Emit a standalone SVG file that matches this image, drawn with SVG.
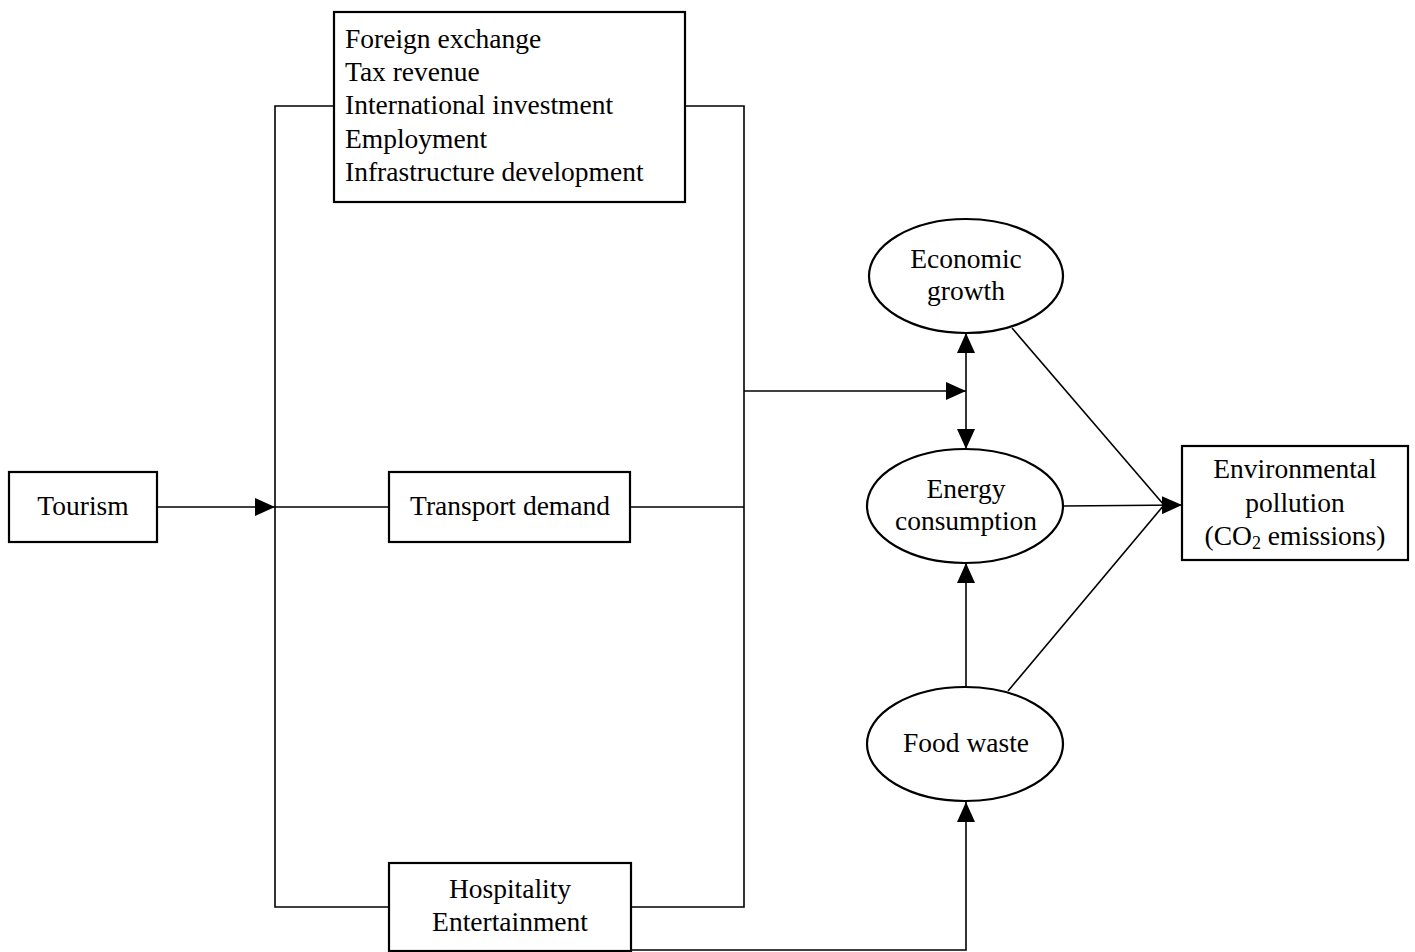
<svg xmlns="http://www.w3.org/2000/svg" width="1415" height="952" viewBox="0 0 1415 952">
<style>
.box{fill:#fff;stroke:#000;stroke-width:2.2}
.ell{fill:#fff;stroke:#000;stroke-width:2.2}
.ln{fill:none;stroke:#000;stroke-width:1.6}
text{font-family:"Liberation Serif","Times New Roman",serif;font-size:27.5px;fill:#000}
.c{text-anchor:middle}
</style>
<defs>
<marker id="ah" markerUnits="userSpaceOnUse" markerWidth="20" markerHeight="18" refX="20" refY="9" orient="auto-start-reverse">
<path d="M0,0 L20,9 L0,18 Z" fill="#000"/>
</marker>
</defs>
<rect width="1415" height="952" fill="#fff"/>
<g id="connectors">
<line class="ln" x1="157" y1="507" x2="275" y2="507" marker-end="url(#ah)"/>
<path class="ln" d="M334,106 H275 V907 H389"/>
<line class="ln" x1="275" y1="507" x2="389" y2="507"/>
<path class="ln" d="M685,106 H744 V907 H631"/>
<line class="ln" x1="630" y1="507" x2="744" y2="507"/>
<line class="ln" x1="744" y1="391" x2="966" y2="391" marker-end="url(#ah)"/>
<line class="ln" x1="966" y1="333" x2="966" y2="449" marker-start="url(#ah)" marker-end="url(#ah)"/>
<path class="ln" d="M631,950 H966 V802" marker-end="url(#ah)"/>
<line class="ln" x1="966" y1="687" x2="966" y2="563" marker-end="url(#ah)"/>
<line class="ln" x1="1012" y1="328" x2="1164" y2="505"/>
<line class="ln" x1="1008" y1="691" x2="1164" y2="505"/>
<line class="ln" x1="1063" y1="506" x2="1182" y2="505" marker-end="url(#ah)"/>
</g>
<g id="benefits">
<rect class="box" x="334" y="12" width="351" height="190"/>
<text x="345" y="48">Foreign exchange</text>
<text x="345" y="81">Tax revenue</text>
<text x="345" y="114">International investment</text>
<text x="345" y="148">Employment</text>
<text x="345" y="181">Infrastructure development</text>
</g>
<g id="tourism">
<rect class="box" x="9" y="472" width="148" height="70"/>
<text class="c" x="83" y="515">Tourism</text>
</g>
<g id="transport">
<rect class="box" x="389" y="472" width="241" height="70"/>
<text class="c" x="510" y="515">Transport demand</text>
</g>
<g id="hospitality">
<rect class="box" x="389" y="863" width="242" height="88"/>
<text class="c" x="510" y="898">Hospitality</text>
<text class="c" x="510" y="931">Entertainment</text>
</g>
<g id="economic">
<ellipse class="ell" cx="966" cy="276" rx="97" ry="57"/>
<text class="c" x="966" y="268">Economic</text>
<text class="c" x="966" y="300">growth</text>
</g>
<g id="energy">
<ellipse class="ell" cx="965" cy="506" rx="98" ry="57"/>
<text class="c" x="966" y="498">Energy</text>
<text class="c" x="966" y="530">consumption</text>
</g>
<g id="food">
<ellipse class="ell" cx="965" cy="744" rx="98" ry="57"/>
<text class="c" x="966" y="752">Food waste</text>
</g>
<g id="pollution">
<rect class="box" x="1182" y="446" width="226" height="114"/>
<text class="c" x="1295" y="478">Environmental</text>
<text class="c" x="1295" y="512">pollution</text>
<text class="c" x="1295" y="545">(CO<tspan font-size="18" dy="4">2</tspan><tspan dy="-4"> emissions)</tspan></text>
</g>
</svg>
